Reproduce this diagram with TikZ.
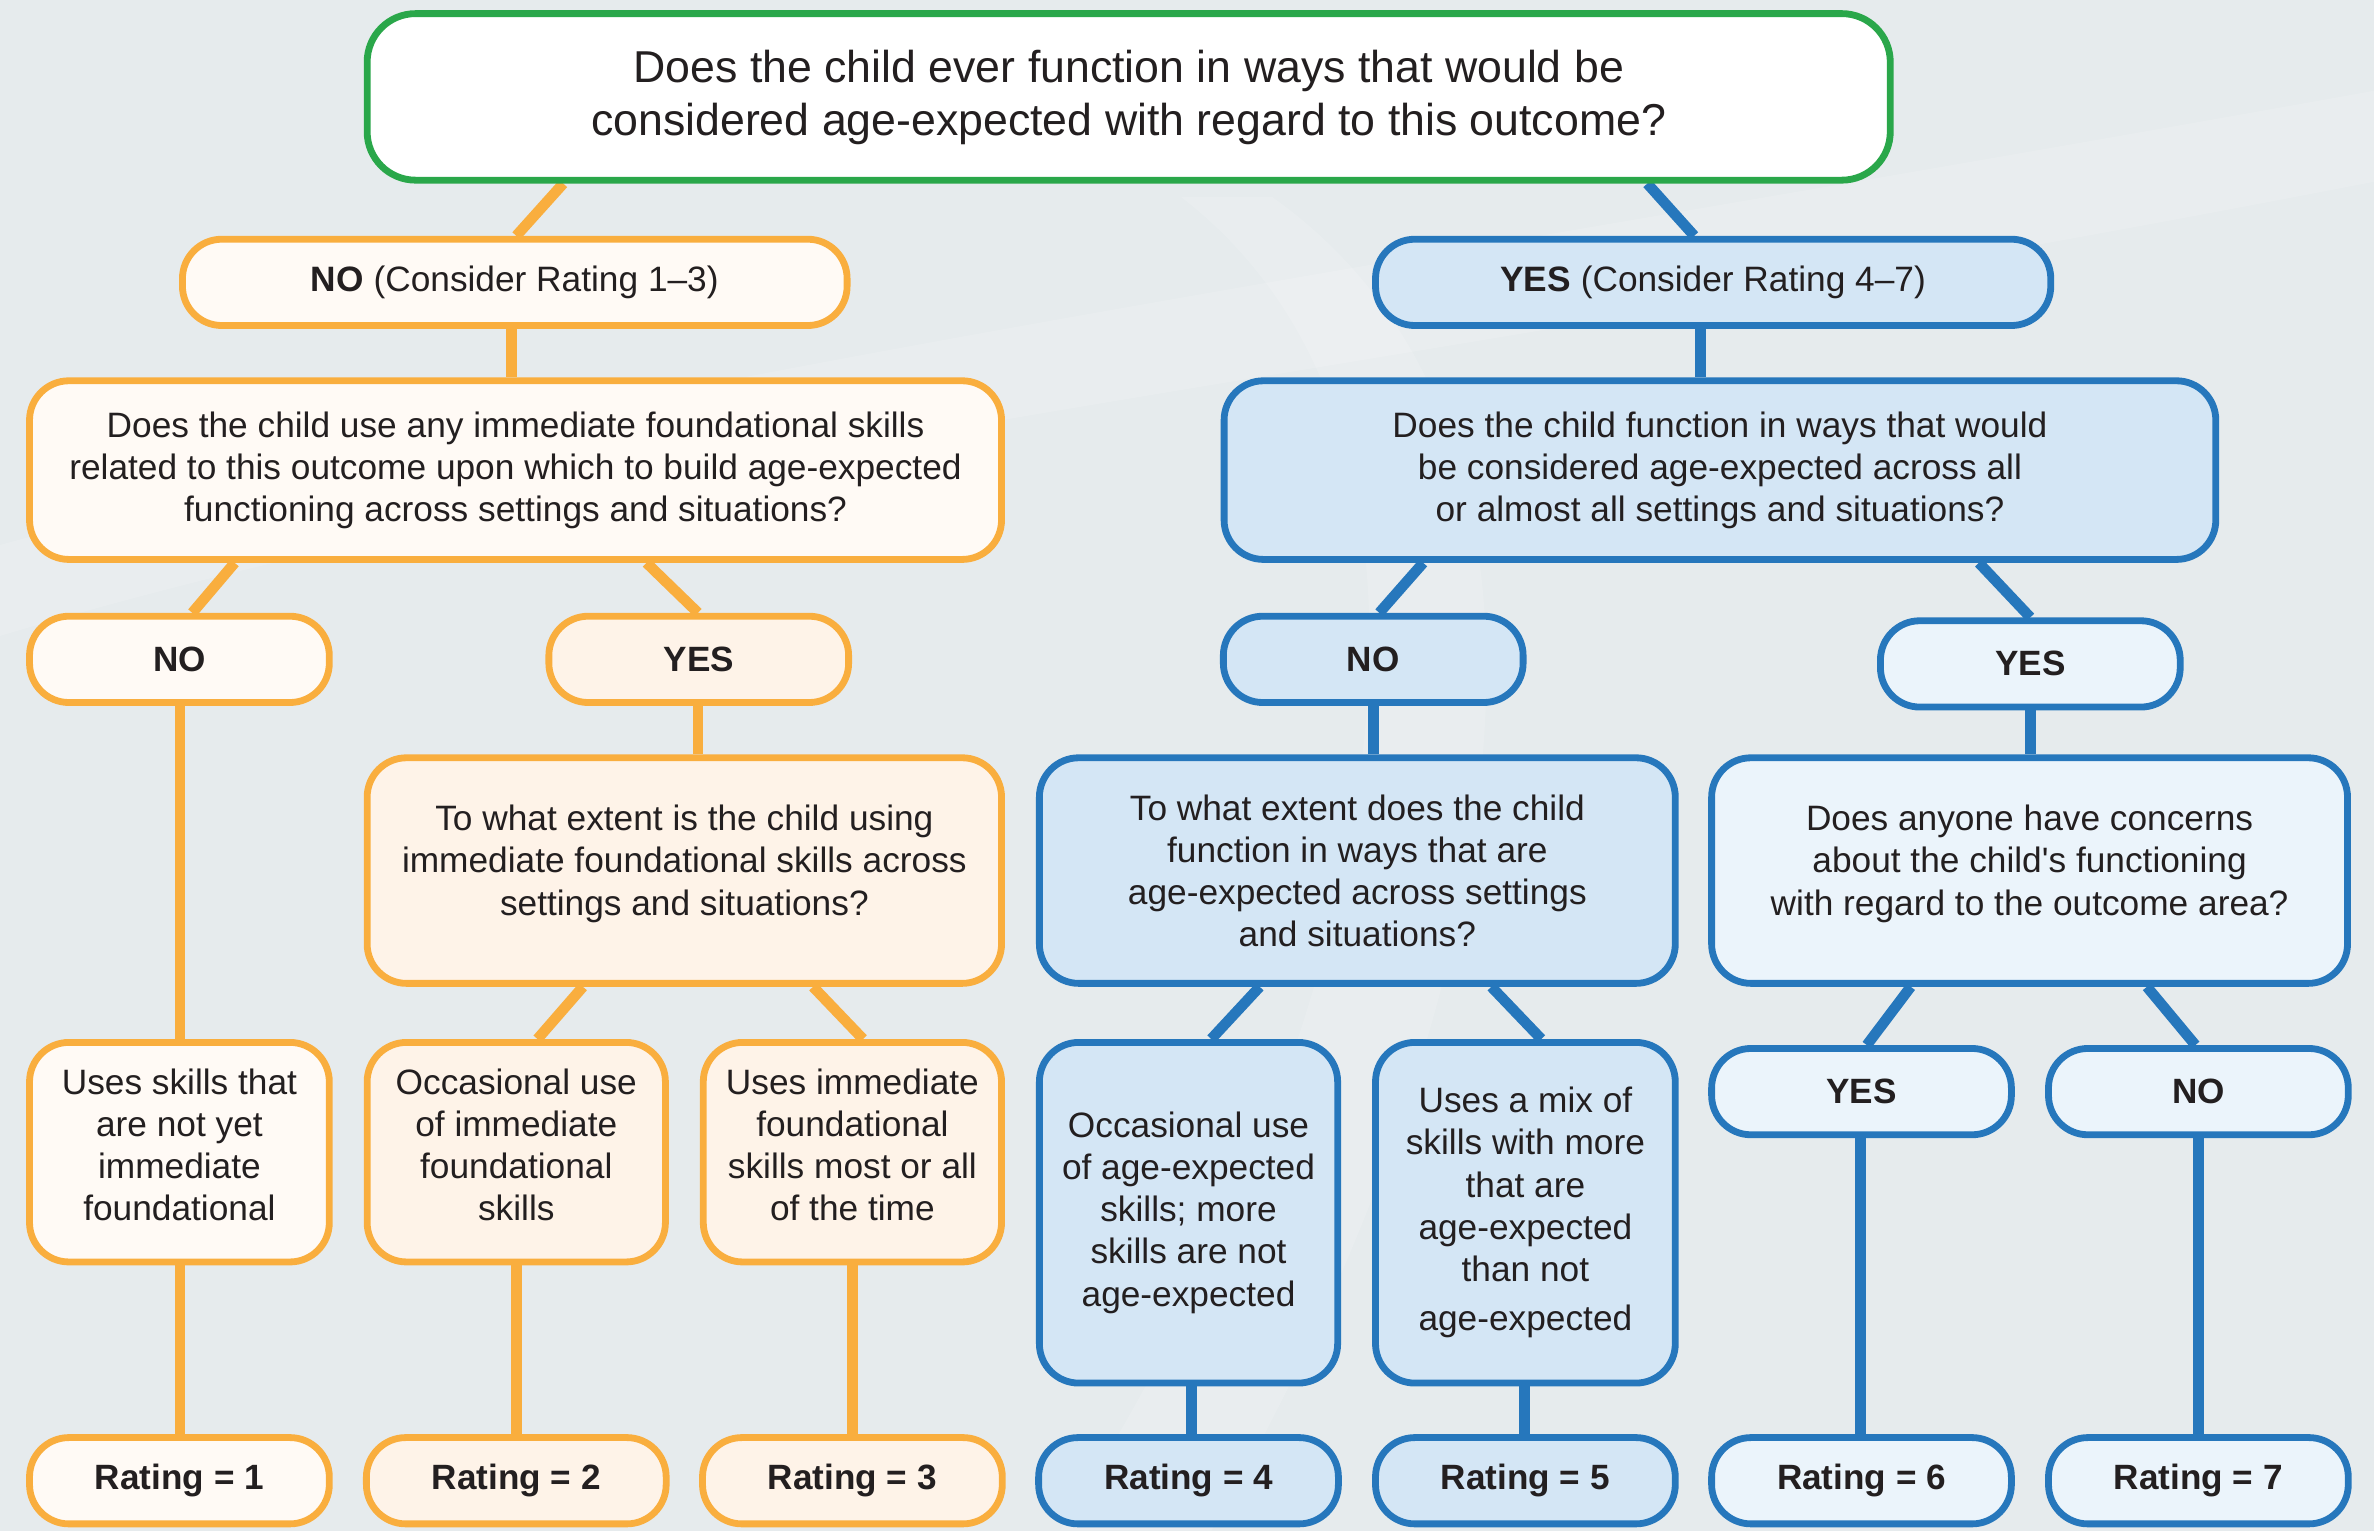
\documentclass[tikz,border=0pt]{standalone}
\usepackage{fontspec}
\setmainfont{Liberation Sans}
\usetikzlibrary{backgrounds}
\definecolor{org}{HTML}{F9AE3E}
\definecolor{grn}{HTML}{2AA74A}
\definecolor{blu}{HTML}{2677BC}
\definecolor{ofA}{HTML}{FFFAF5}
\definecolor{ofB}{HTML}{FEF3E8}
\definecolor{bfA}{HTML}{D4E6F5}
\definecolor{bfB}{HTML}{EBF4FB}
\definecolor{bgc}{HTML}{E6EBED}
\definecolor{txt}{HTML}{231F20}
\begin{document}
\begin{tikzpicture}[x=1pt,y=-1pt,
  box/.style={draw, rounded corners=26pt, align=center, text=txt, inner sep=2pt,
    font=\fontsize{23.3}{27.8}\selectfont, line width=4.5pt},
  oboxA/.style={box, draw=org, fill=ofA},
  oboxB/.style={box, draw=org, fill=ofB},
  bboxA/.style={box, draw=blu, fill=bfA},
  bboxB/.style={box, draw=blu, fill=bfB},
  lbl/.style={font=\bfseries\fontsize{23.2}{27}\selectfont},
  oconn/.style={draw=org, line width=7pt},
  bconn/.style={draw=blu, line width=7pt},
  small/.style={minimum width=198pt, minimum height=57pt}
]
\useasboundingbox (0,0) rectangle (1568,1011);

% top
\node[box, draw=grn, fill=white, rounded corners=32pt, minimum width=1006pt, minimum height=110pt,
  font=\fontsize{29.5}{35}\selectfont] (top) at (745.5,64)
  {Does the child ever function in ways that would be\\considered age-expected with regard to this outcome?\\[-29pt]};

% level 1
\node[oboxA, minimum width=439pt, minimum height=57pt] (no13) at (340,186.5)
  {\textbf{NO} (Consider Rating 1--3)};
\node[bboxA, minimum width=446pt, minimum height=57pt] (yes47) at (1131.5,186.5)
  {\textbf{YES} (Consider Rating 4--7)};

% level 2
\node[oboxA, minimum width=642pt, minimum height=118pt] (ql) at (340.5,310.5)
  {Does the child use any immediate foundational skills\\related to this outcome upon which to build age-expected\\functioning across settings and situations?};
\node[bboxA, minimum width=655pt, minimum height=118pt] (qr) at (1136,310.5)
  {Does the child function in ways that would\\be considered age-expected across all\\or almost all settings and situations?};

% level 3
\node[oboxA, small, lbl] (nol) at (118.5,435.5) {NO};
\node[oboxB, small, lbl] (yesl) at (461.5,435.5) {YES};
\node[bboxA, small, lbl] (nor) at (907,435.5) {NO};
\node[bboxB, small, lbl] (yesr) at (1341,438.5) {YES};

% level 4
\node[oboxB, minimum width=419pt, minimum height=149pt] (q2l) at (452,575)
  {To what extent is the child using\\immediate foundational skills across\\settings and situations?\\[-14pt]};
\node[bboxA, minimum width=420pt, minimum height=149pt] (q2r) at (896.5,575)
  {To what extent does the child\\function in ways that are\\age-expected across settings\\and situations?};
\node[bboxB, minimum width=420pt, minimum height=149pt] (q3r) at (1340.5,575)
  {Does anyone have concerns\\about the child\textquotesingle s functioning\\with regard to the outcome area?\\[-14pt]};

% level 5
\node[oboxA, minimum width=198pt, minimum height=145pt] (a) at (118.5,761)
  {Uses skills that\\are not yet\\immediate\\foundational\\[-18pt]};
\node[oboxB, minimum width=197pt, minimum height=145pt] (b) at (341,761)
  {Occasional use\\of immediate\\foundational\\skills\\[-18pt]};
\node[oboxB, minimum width=197pt, minimum height=145pt] (c) at (563,761)
  {Uses immediate\\foundational\\skills most or all\\of the time\\[-18pt]};
\node[bboxA, minimum width=197pt, minimum height=225pt] (d) at (785,801)
  {Occasional use\\of age-expected\\skills; more\\skills are not\\age-expected};
\node[bboxA, minimum width=198pt, minimum height=225pt] (e) at (1007.5,801)
  {Uses a mix of\\skills with more\\that are\\age-expected\\than not\\[5pt]age-expected};
\node[bboxB, small, lbl] (y6) at (1229.5,721) {YES};
\node[bboxB, small, lbl] (n7) at (1452,721) {NO};

% ratings
\node[oboxA, small, lbl] (r1) at (118.5,978) {Rating = 1};
\node[oboxB, small, lbl] (r2) at (341,978) {Rating = 2};
\node[oboxB, small, lbl] (r3) at (563,978) {Rating = 3};
\node[bboxA, small, lbl] (r4) at (785,978) {Rating = 4};
\node[bboxA, small, lbl] (r5) at (1007.5,978) {Rating = 5};
\node[bboxB, small, lbl] (r6) at (1229.5,978) {Rating = 6};
\node[bboxB, small, lbl] (r7) at (1452,978) {Rating = 7};

\begin{pgfonlayer}{background}
\fill[bgc] (0,0) rectangle (1568,1011);
\fill[white, opacity=0.15] (0,420) .. controls (400,300) and (900,250) .. (1568,120)
  -- (1568,60) .. controls (900,180) and (400,250) .. (0,360) -- cycle;
\fill[white, opacity=0.15] (700,1011) .. controls (900,700) and (1000,300) .. (780,130)
  -- (840,130) .. controls (1080,300) and (980,700) .. (800,1011) -- cycle;
% connectors
\path[oconn] (top.south -| 372,0) -- (no13.north -| 341,0);
\path[bconn] (top.south -| 1088,0) -- (yes47.north -| 1119,0);
\path[oconn] (no13.south -| 338,0) -- (ql.north -| 338,0);
\path[bconn] (yes47.south -| 1123,0) -- (qr.north -| 1123,0);
\path[oconn] (ql.south -| 155,0) -- (nol.north -| 127,0);
\path[oconn] (ql.south -| 427,0) -- (yesl.north -| 461,0);
\path[bconn] (qr.south -| 940,0) -- (nor.north -| 911,0);
\path[bconn] (qr.south -| 1307,0) -- (yesr.north -| 1341,0);
\path[oconn] (nol.south -| 119,0) -- (a.north -| 119,0);
\path[oconn] (yesl.south -| 461,0) -- (q2l.north -| 461,0);
\path[bconn] (nor.south -| 907,0) -- (q2r.north -| 907,0);
\path[bconn] (yesr.south -| 1341,0) -- (q3r.north -| 1341,0);
\path[oconn] (q2l.south -| 385,0) -- (b.north -| 355,0);
\path[oconn] (q2l.south -| 537,0) -- (c.north -| 570,0);
\path[bconn] (q2r.south -| 832,0) -- (d.north -| 800,0);
\path[bconn] (q2r.south -| 985,0) -- (e.north -| 1018,0);
\path[bconn] (q3r.south -| 1262,0) -- (y6.north -| 1233,0);
\path[bconn] (q3r.south -| 1418,0) -- (n7.north -| 1450,0);
\path[oconn] (a.south -| 119,0) -- (r1.north -| 119,0);
\path[oconn] (b.south -| 341,0) -- (r2.north -| 341,0);
\path[oconn] (c.south -| 563,0) -- (r3.north -| 563,0);
\path[bconn] (d.south -| 787,0) -- (r4.north -| 787,0);
\path[bconn] (e.south -| 1007,0) -- (r5.north -| 1007,0);
\path[bconn] (y6.south -| 1229,0) -- (r6.north -| 1229,0);
\path[bconn] (n7.south -| 1452,0) -- (r7.north -| 1452,0);
\end{pgfonlayer}
\end{tikzpicture}
\end{document}
